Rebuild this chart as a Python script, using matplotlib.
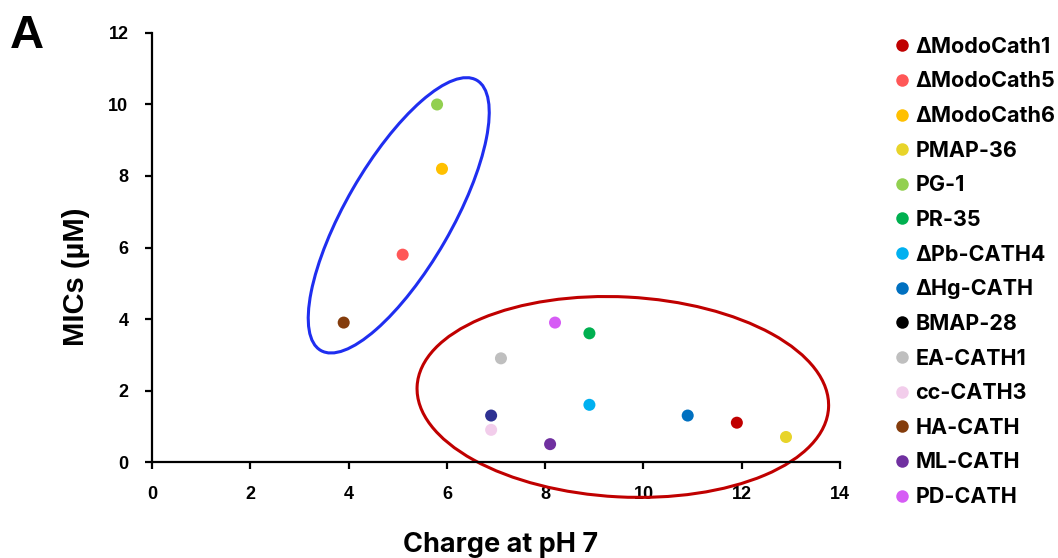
import matplotlib
matplotlib.use("Agg")
import matplotlib.pyplot as plt
from matplotlib.patches import Ellipse
from matplotlib.lines import Line2D
import matplotlib.transforms as mtransforms

names = ["ΔModoCath1", "ΔModoCath5", "ΔModoCath6", "PMAP-36", "PG-1", "PR-35",
         "ΔPb-CATH4", "ΔHg-CATH", "BMAP-28", "EA-CATH1", "cc-CATH3", "HA-CATH",
         "ML-CATH", "PD-CATH"]
charge = [11.9, 5.1, 5.9, 12.9, 5.8, 8.9, 8.9, 10.9, 6.9, 7.1, 6.9, 3.9, 8.1, 8.2]
mic = [1.1, 5.8, 8.2, 0.7, 10.0, 3.6, 1.6, 1.3, 1.3, 2.9, 0.9, 3.9, 0.5, 3.9]
point_colors = ["#C00000", "#FF5757", "#FFC000", "#E8D42A", "#92D050", "#00B050",
                "#00B0F0", "#0070C0", "#2E3192", "#BFBFBF", "#F2CDEB", "#843C0C",
                "#7030A0", "#D65CF5"]
legend_colors = ["#C00000", "#FF5757", "#FFC000", "#E8D42A", "#92D050", "#00B050",
                 "#00B0F0", "#0070C0", "#000000", "#BFBFBF", "#F2CDEB", "#843C0C",
                 "#7030A0", "#D65CF5"]
xticks = [0, 2, 4, 6, 8, 10, 12, 14]
yticks = [0, 2, 4, 6, 8, 10, 12]

fig = plt.figure(figsize=(10.58, 5.58), dpi=100)
ax = fig.add_axes([0.1437, 0.172, 0.794 - 0.1437, 0.9409 - 0.172])

for x, y, c in zip(charge, mic, point_colors):
    ax.scatter(x, y, s=75, color=c, zorder=3, edgecolors="none")

ax.set_xlim(0, 14)
ax.set_ylim(0, 12)
ax.set_xticks(xticks)
ax.set_yticks(yticks)
for s in ["top", "right"]:
    ax.spines[s].set_visible(False)
for s in ["left", "bottom"]:
    ax.spines[s].set_linewidth(1.6)
ax.tick_params(width=1.6, length=5, labelsize=13, pad=12)
for lab in ax.get_xticklabels() + ax.get_yticklabels():
    lab.set_fontweight("bold")
    lab.set_fontfamily("Liberation Sans")

fig.text(501 / 1058, 1 - 545 / 558, "Charge at pH 7", fontsize=19.5, fontweight="bold",
         family="Inter", ha="center", va="center")
fig.text(76 / 1058, 1 - 277 / 558, "MICs (µM)", fontsize=21, fontweight="bold",
         family="Liberation Sans", ha="center", va="center", rotation=90)

fig.text(0.009, 1 - 48 / 558, "A", fontsize=34, fontweight="bold",
         family="Liberation Sans", ha="left", va="baseline")

# ellipses drawn in inch space, centred on data points
def add_ellipse(cx, cy, w_px, h_px, angle, color):
    trans = fig.dpi_scale_trans + mtransforms.ScaledTranslation(cx, cy, ax.transData)
    e = Ellipse((0, 0), w_px / 100, h_px / 100, angle=angle, transform=trans,
                fill=False, edgecolor=color, linewidth=2.2, clip_on=False, zorder=2)
    ax.add_patch(e)

add_ellipse(5.02, 6.9, 312, 106, 60, "#1F2EF0")
add_ellipse(9.58, 1.82, 412, 200, -3, "#C00000")

handles = [Line2D([0], [0], marker="o", linestyle="none", markersize=9,
                  markerfacecolor=c, markeredgecolor="none") for c in legend_colors]
leg = fig.legend(handles, names, loc="upper left", bbox_to_anchor=(0.843, 0.934),
                 frameon=False, prop={"family": "Inter", "weight": "bold", "size": 15.5},
                 handletextpad=0.2, labelspacing=0.68, handlelength=0.9,
                 borderaxespad=0, borderpad=0)

fig.savefig("out.png", dpi=100)
